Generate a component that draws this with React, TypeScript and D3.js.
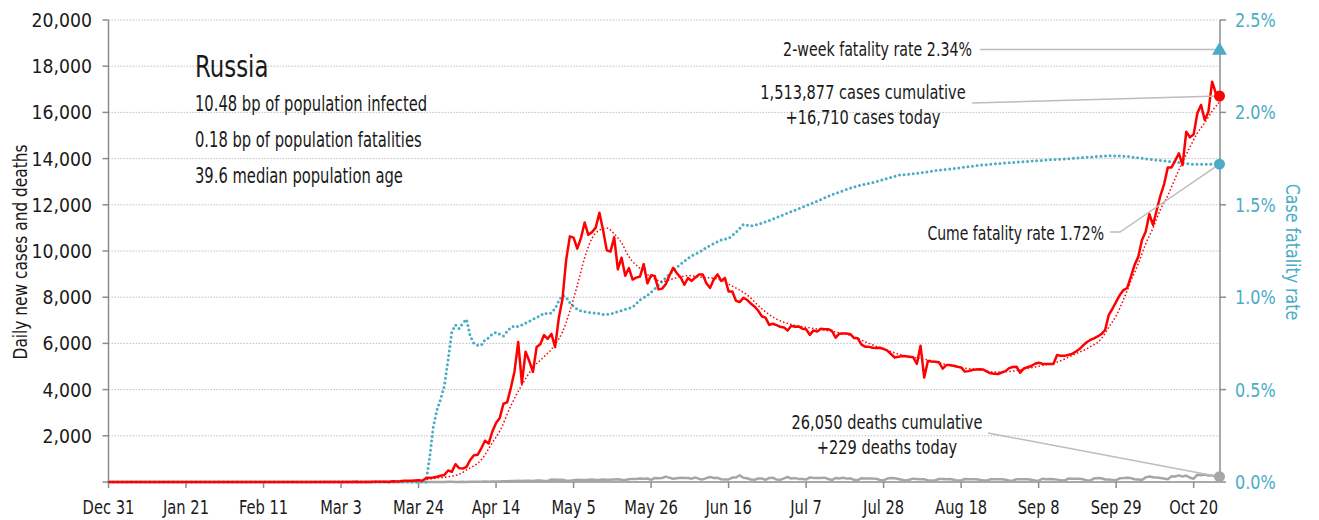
import React, { useRef, useEffect } from 'react'
import * as d3 from 'd3'

// Russia — daily new cases, deaths and case fatality rate (D3).
// Day index 0 = Dec 31 2019, one value per day up to Oct 27 2020.

const START = new Date(Date.UTC(2019, 11, 31))

// daily new cases
const dailyCases = [
  0, 0, 0, 0, 0, 0, 0, 0, 0, 0,
  0, 0, 0, 0, 0, 0, 0, 0, 0, 0,
  0, 0, 0, 0, 0, 0, 0, 0, 0, 0,
  0, 0, 2, 0, 0, 0, 0, 0, 0, 0,
  0, 0, 0, 0, 0, 0, 0, 0, 0, 0,
  0, 0, 0, 0, 0, 0, 0, 0, 0, 0,
  0, 0, 0, 1, 0, 0, 1, 6, 0, 4,
  0, 3, 8, 6, 11, 14, 4, 30, 21, 33,
  52, 54, 53, 62, 71, 57, 163, 182, 196, 228,
  270, 302, 501, 440, 771, 601, 582, 658, 954, 1154,
  1175, 1459, 1786, 1667, 2186, 2558, 2774, 3388, 3448, 4070,
  4785, 6060, 4268, 5642, 5236, 4774, 5849, 5966, 6361, 6198,
  6411, 5841, 7099, 7933, 9623, 10633, 10581, 10102, 10559, 11231,
  10699, 10817, 11012, 11656, 10899, 10028, 9974, 10598, 9200, 9709,
  8926, 9263, 8764, 8849, 8894, 9434, 8599, 8946, 8915, 8338,
  8371, 8572, 8952, 9268, 9035, 8863, 8536, 8831, 8705, 8855,
  8984, 8985, 8595, 8404, 8779, 8987, 8706, 8835, 8246, 8248,
  7843, 7790, 7972, 7889, 7728, 7600, 7425, 7176, 7113, 6800,
  6852, 6791, 6719, 6693, 6556, 6760, 6718, 6736, 6632, 6611,
  6368, 6562, 6509, 6635, 6611, 6615, 6537, 6248, 6422, 6428,
  6430, 6400, 6230, 6220, 5950, 5860, 5850, 5810, 5800, 5810,
  5760, 5690, 5540, 5390, 5420, 5450, 5440, 5420, 5400, 5110,
  5900, 4520, 5240, 5220, 5210, 5180, 4910, 5060, 5060, 5030,
  4990, 4960, 4780, 4800, 4850, 4870, 4880, 4870, 4780, 4705,
  4690, 4675, 4740, 4800, 4930, 4980, 4990, 4730, 4920, 4970,
  5020, 5120, 5160, 5120, 5110, 5110, 5110, 5500, 5460, 5460,
  5500, 5540, 5640, 5745, 5900, 6050, 6150, 6220, 6300, 6405,
  6580, 7230, 7500, 7800, 8100, 8310, 8400, 8890, 9400, 9750,
  10475, 10835, 11600, 11125, 11775, 12400, 12900, 13620, 13620, 13910,
  14230, 13720, 15165, 14920, 15050, 15960, 16320, 15670, 16030, 17330,
  16830, 16710,
]

// daily deaths
const dailyDeaths = [
  0, 0, 0, 0, 0, 0, 0, 0, 0, 0,
  0, 0, 0, 0, 0, 0, 0, 0, 0, 0,
  0, 0, 0, 0, 0, 0, 0, 0, 0, 0,
  0, 0, 0, 0, 0, 0, 0, 0, 0, 0,
  0, 0, 0, 0, 0, 0, 0, 0, 0, 0,
  0, 0, 0, 0, 0, 0, 0, 0, 0, 0,
  0, 0, 0, 0, 0, 0, 0, 0, 0, 0,
  0, 0, 0, 0, 0, 0, 0, 0, 0, 0,
  0, 0, 0, 0, 0, 0, 1, 0, 1, 1,
  2, 1, 8, 7, 2, 4, 9, 2, 11, 11,
  13, 13, 18, 12, 22, 24, 22, 28, 36, 41,
  48, 51, 48, 51, 57, 42, 60, 66, 47, 47,
  108, 101, 101, 96, 57, 58, 76, 95, 86, 88,
  98, 104, 88, 94, 107, 96, 93, 113, 119, 94,
  91, 115, 135, 127, 150, 139, 153, 92, 174, 161,
  174, 232, 181, 138, 162, 182, 178, 169, 144, 197,
  134, 112, 171, 216, 174, 181, 119, 113, 109, 193,
  194, 290, 181, 161, 109, 95, 153, 154, 92, 176,
  188, 104, 93, 154, 216, 147, 168, 135, 134, 104,
  198, 173, 175, 174, 188, 130, 85, 175, 153, 186,
  146, 160, 95, 80, 165, 150, 154, 147, 146, 85,
  73, 147, 169, 161, 129, 95, 70, 95, 144, 129,
  124, 119, 70, 70, 77, 130, 129, 114, 129, 95,
  60, 70, 130, 114, 115, 121, 97, 68, 61, 121,
  119, 121, 117, 97, 69, 57, 123, 122, 118, 119,
  98, 68, 56, 141, 122, 129, 121, 103, 71, 62,
  149, 145, 141, 144, 117, 69, 60, 156, 169, 160,
  108, 104, 92, 79, 160, 170, 186, 169, 117, 113,
  88, 201, 239, 202, 191, 174, 147, 116, 244, 239,
  286, 232, 279, 184, 140, 317, 286, 320, 283, 283,
  219, 229,
]

// smoothed cases (red dotted), sampled days
const trendDays = [0, 80, 88, 95, 97, 101, 104, 106, 109, 112, 115, 118, 121, 123, 125, 127, 129, 131, 133, 135, 137, 139, 141, 144, 147, 150, 153, 157, 161, 165, 169, 173, 177, 181, 186, 191, 196, 201, 206, 211, 216, 221, 226, 231, 236, 240, 245, 249, 254, 258, 262, 266, 269, 271, 273, 275, 277, 279, 281, 283, 285, 287, 289, 291, 293, 295, 297, 299, 301]
const trendCases = [0, 30, 150, 330, 520, 960, 1700, 2200, 3300, 4200, 4950, 5420, 5950, 6500, 7400, 8500, 9700, 10550, 10900, 11000, 10750, 10350, 9750, 9250, 8880, 8680, 8800, 8930, 8860, 8790, 8480, 8100, 7500, 7050, 6780, 6650, 6520, 6350, 6000, 5700, 5450, 5320, 5120, 4950, 4860, 4760, 4800, 4920, 5080, 5250, 5550, 5850, 6200, 6700, 7200, 7900, 8700, 9450, 10300, 11000, 11800, 12400, 13150, 13850, 14500, 15100, 15550, 16050, 16450]

// cumulative case fatality rate (%), sampled days
const cfrDays = [0, 86, 87, 88, 89, 90, 91, 92, 93, 94, 95, 96, 97, 98, 99, 100, 101, 102, 103, 104, 105, 106, 107, 108, 109, 110, 111, 112, 113, 114, 115, 116, 117, 118, 119, 120, 121, 122, 123, 124, 125, 126, 127, 128, 130, 132, 134, 136, 138, 140, 142, 144, 146, 148, 150, 152, 154, 156, 158, 160, 162, 164, 166, 168, 170, 172, 174, 176, 179, 185, 191, 196, 202, 208, 214, 219, 225, 231, 236, 242, 248, 254, 259, 265, 271, 276, 282, 288, 294, 301]
const cfrPct = [0, 0, 0.13, 0.3, 0.39, 0.45, 0.52, 0.66, 0.81, 0.85, 0.83, 0.86, 0.88, 0.79, 0.75, 0.74, 0.74, 0.77, 0.78, 0.8, 0.81, 0.8, 0.79, 0.815, 0.837, 0.845, 0.84, 0.85, 0.86, 0.87, 0.88, 0.89, 0.9, 0.915, 0.91, 0.915, 0.94, 0.98, 1.01, 1.0, 0.97, 0.95, 0.935, 0.925, 0.918, 0.914, 0.907, 0.909, 0.922, 0.934, 0.945, 0.985, 1.01, 1.045, 1.085, 1.125, 1.162, 1.195, 1.225, 1.242, 1.27, 1.29, 1.31, 1.318, 1.35, 1.394, 1.385, 1.394, 1.415, 1.463, 1.511, 1.555, 1.597, 1.625, 1.66, 1.67, 1.688, 1.701, 1.714, 1.725, 1.733, 1.742, 1.748, 1.757, 1.766, 1.762, 1.746, 1.733, 1.719, 1.72]

const tickDates = ['2019-12-31', '2020-01-21', '2020-02-11', '2020-03-03', '2020-03-24', '2020-04-14', '2020-05-05', '2020-05-26', '2020-06-16', '2020-07-07', '2020-07-28', '2020-08-18', '2020-09-08', '2020-09-29', '2020-10-20']
const leftTicks = [0, 2000, 4000, 6000, 8000, 10000, 12000, 14000, 16000, 18000, 20000]
const rightTicks = [0, 0.5, 1, 1.5, 2, 2.5]

const country = 'Russia'
const infoLines = ['10.48 bp of population infected', '0.18 bp of population fatalities', '39.6 median population age']
const twoWeekRate = 2.34
const cumeRate = 1.72
const casesCumulative = '1,513,877'
const deathsCumulative = '26,050'

const RED = '#ff0000'
const CYAN = '#4bacc6'
const AXIS = '#8c8c8c'
const LEADER = '#bdbdbd'
const FONT = "'Liberation Sans Narrow', 'Arial Narrow', 'DejaVu Sans Condensed', sans-serif"

// text squeezed horizontally (the original face is a tall condensed gothic)
const addText = (g, x, y, s, opts = {}) => {
  const { size = 20, anchor = 'start', fill = '#1a1a1a', sx = 0.8, rotate = 0, dy = null } = opts
  const t = g.append('text')
    .attr('transform', `translate(${x},${y}) rotate(${rotate}) scale(${sx},1)`)
    .attr('text-anchor', anchor).attr('fill', fill)
    .style('font-family', FONT).style('font-size', `${size}px`)
    .text(s)
  if (dy) t.attr('dy', dy)
  return t
}

export default function App() {
  const svgRef = useRef(null)

  useEffect(() => {
    document.body.style.margin = '0'
    const svg = d3.select(svgRef.current)
    svg.selectAll('*').remove()

    const dayDate = (i) => d3.utcDay.offset(START, i)
    const last = dailyCases.length - 1

    const x = d3.scaleUtc().domain([START, dayDate(last)]).range([108.5, 1219.5])
    const y = d3.scaleLinear().domain([0, 20000]).range([482, 20])
    const yr = d3.scaleLinear().domain([0, 2.5]).range([482, 20])
    const left = 108.5
    const right = 1220

    // grid
    svg.append('g')
      .selectAll('line')
      .data(leftTicks.filter((d) => d > 0))
      .join('line')
      .attr('x1', left).attr('x2', right)
      .attr('y1', (d) => y(d)).attr('y2', (d) => y(d))
      .attr('stroke', '#bfbfbf').attr('stroke-width', 1).attr('stroke-dasharray', '1.5,1.5')

    // axes
    const axes = svg.append('g').attr('stroke', AXIS).attr('stroke-width', 1.5)
    axes.append('line').attr('x1', left).attr('x2', left).attr('y1', 20).attr('y2', 482)
    axes.append('line').attr('x1', right).attr('x2', right).attr('y1', 20).attr('y2', 482)
    axes.append('line').attr('x1', left).attr('x2', right).attr('y1', 482).attr('y2', 482)
    leftTicks.forEach((t) => {
      axes.append('line').attr('x1', left - 6).attr('x2', left).attr('y1', y(t)).attr('y2', y(t))
    })
    rightTicks.forEach((t) => {
      axes.append('line').attr('x1', right).attr('x2', right + 6).attr('y1', yr(t)).attr('y2', yr(t))
    })
    tickDates.forEach((t) => {
      const tx = x(new Date(t + 'T00:00:00Z'))
      axes.append('line').attr('x1', tx).attr('x2', tx).attr('y1', 482).attr('y2', 488)
    })

    const fmtDate = d3.utcFormat('%b %-d')
    const labels = svg.append('g')
    tickDates.forEach((t) => {
      const d = new Date(t + 'T00:00:00Z')
      addText(labels, x(d), 514, fmtDate(d), { size: 19, anchor: 'middle', sx: 0.86 })
    })
    leftTicks.filter((d) => d > 0).forEach((t) => {
      addText(labels, 92, y(t), d3.format(',')(t), { size: 20, anchor: 'end', sx: 0.96, dy: '0.35em' })
    })
    rightTicks.forEach((t) => {
      addText(labels, 1235, yr(t), t.toFixed(1) + '%', { size: 20, fill: CYAN, sx: 0.89, dy: '0.35em' })
    })
    addText(labels, 27, 252, 'Daily new cases and deaths', { size: 19, anchor: 'middle', rotate: -90, sx: 0.9 })
    addText(labels, 1286, 252, 'Case fatality rate', { size: 20, anchor: 'middle', fill: CYAN, rotate: 90, sx: 0.88 })

    // series
    const line = d3.line().x((d) => x(dayDate(d[0]))).y((d) => d[1])
    const plot = svg.append('g').attr('fill', 'none')

    plot.append('path')
      .attr('d', line(dailyDeaths.map((v, i) => [i, y(v)])))
      .attr('stroke', '#a6a6a6').attr('stroke-width', 2.5).attr('stroke-linejoin', 'round')

    plot.append('path')
      .attr('d', line(cfrDays.map((d, i) => [d, yr(cfrPct[i])])))
      .attr('stroke', CYAN).attr('stroke-width', 3)
      .attr('stroke-linecap', 'round').attr('stroke-dasharray', '0,4.6')

    plot.append('path')
      .attr('d', line.curve(d3.curveMonotoneX)(trendDays.map((d, i) => [d, y(trendCases[i])])))
      .attr('stroke', RED).attr('stroke-width', 1.5).attr('stroke-dasharray', '1.5,2.2')
    line.curve(d3.curveLinear)

    plot.append('path')
      .attr('d', line(dailyCases.map((v, i) => [i, y(v)])))
      .attr('stroke', RED).attr('stroke-width', 2.5).attr('stroke-linejoin', 'round')

    // markers and leaders
    const lx = x(dayDate(last))
    const ann = svg.append('g')
    const leader = (pts) => ann.append('path')
      .attr('d', d3.line()(pts)).attr('fill', 'none')
      .attr('stroke', LEADER).attr('stroke-width', 1.5)

    leader([[980, yr(twoWeekRate)], [lx, yr(twoWeekRate)]])
    leader([[972, 103], [lx, y(dailyCases[last])]])
    leader([[1110, 232], [1120, 232], [lx, yr(cumeRate)]])
    leader([[988, 433], [lx, y(dailyDeaths[last])]])

    ann.append('path')
      .attr('d', d3.symbol(d3.symbolTriangle, 95)())
      .attr('transform', `translate(${lx}, ${yr(twoWeekRate) + 1})`)
      .attr('fill', CYAN)
    ann.append('circle').attr('cx', lx).attr('cy', y(dailyCases[last])).attr('r', 5.5).attr('fill', RED)
    ann.append('circle').attr('cx', lx).attr('cy', yr(cumeRate)).attr('r', 5.5).attr('fill', CYAN)
    ann.append('circle').attr('cx', lx).attr('cy', y(dailyDeaths[last])).attr('r', 5.5).attr('fill', '#a6a6a6')

    const txt = svg.append('g')
    addText(txt, 972, 56, `2-week fatality rate ${twoWeekRate.toFixed(2)}%`, { anchor: 'end', sx: 0.79 })
    addText(txt, 863, 99, `${casesCumulative} cases cumulative`, { anchor: 'middle', sx: 0.81 })
    addText(txt, 863, 124, `+${d3.format(',')(dailyCases[last])} cases today`, { anchor: 'middle', sx: 0.81 })
    addText(txt, 1104, 240, `Cume fatality rate ${cumeRate.toFixed(2)}%`, { anchor: 'end', sx: 0.78 })
    addText(txt, 887, 429, `${deathsCumulative} deaths cumulative`, { anchor: 'middle', sx: 0.81 })
    addText(txt, 887, 454, `+${dailyDeaths[last]} deaths today`, { anchor: 'middle', sx: 0.81 })

    addText(txt, 195, 77, country, { size: 31, sx: 0.82 })
    infoLines.forEach((s, i) => {
      addText(txt, 195, 111 + i * 36, s, { size: 21, sx: 0.78 })
    })
  }, [])

  return <svg ref={svgRef} width={1319} height={520} style={{ display: 'block' }} />
}
